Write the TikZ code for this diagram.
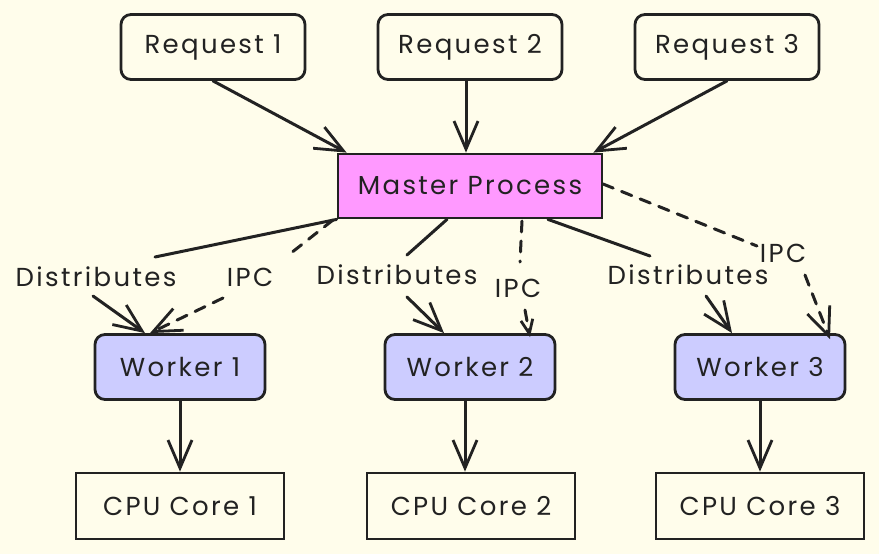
\documentclass[tikz,border=0pt]{standalone}
\usepackage{fontspec}
\setmainfont{Poppins}[LetterSpace=9]
\usetikzlibrary{arrows.meta}
\definecolor{bg}{HTML}{FFFDEB}
\definecolor{ink}{HTML}{222222}
\definecolor{masterfill}{HTML}{FF99FF}
\definecolor{workerfill}{HTML}{CCCCFF}
\begin{document}
\begin{tikzpicture}[x=1pt,y=-1pt,
  font=\fontsize{26}{30}\selectfont,
  box/.style={draw=ink,line width=2.8pt,text=ink,minimum height=65pt,inner sep=0pt},
  reqbox/.style={box,rounded corners=10pt,minimum width=184pt},
  masterbox/.style={box,fill=masterfill,minimum width=264pt,minimum height=64pt},
  workerbox/.style={box,fill=workerfill,rounded corners=10pt,minimum width=170pt},
  cpubox/.style={box,minimum width=208pt,minimum height=66pt},
  lab/.style={inner sep=0pt,text=ink},
  edge/.style={draw=ink,line width=3pt,line cap=round},
  tip/.style={-{Straight Barb[length=28pt,width=24pt,line width=2.8pt]}},
  smalltip/.style={-{Straight Barb[length=14pt,width=12pt,line width=2.8pt]}},
  ipc/.style={edge,dash pattern=on 11pt off 9pt}
]
\fill[bg] (0,0) rectangle (879,554);
\useasboundingbox (0,0) rectangle (879,554);

% boxes
\node[reqbox] (r1) at (213,47) {Request 1};
\node[reqbox] (r2) at (470,47) {Request 2};
\node[reqbox] (r3) at (727,47) {Request 3};
\node[masterbox] (m) at (470,186) {Master Process};
\node[workerbox] (w1) at (180,367) {Worker 1};
\node[workerbox] (w2) at (470,367) {Worker 2};
\node[workerbox] (w3) at (760,367) {Worker 3};
\node[cpubox] (c1) at (180,506) {CPU Core 1};
\node[cpubox] (c2) at (471,506) {CPU Core 2};
\node[cpubox] (c3) at (760,506) {CPU Core 3};

% edge labels
\node[lab] (d1) at (96,277) {Distributes};
\node[lab] (d2) at (397,275) {Distributes};
\node[lab] (d3) at (688,275) {Distributes};
\node[lab] (i1) at (250,277) {IPC};
\node[lab] (i2) at (518,288) {IPC};
\node[lab] (i3) at (783,253) {IPC};

% split points around labels
\coordinate (d1a) at (155,257); \coordinate (d1b) at (93,296);
\coordinate (d2a) at (407,255); \coordinate (d2b) at (407,297);
\coordinate (d3a) at (650,256); \coordinate (d3b) at (706,296);
\coordinate (i1s) at (333,220); \coordinate (i1a) at (286,257); \coordinate (i1b) at (223,298);
\coordinate (i2s) at (522,221); \coordinate (i2a) at (520,262); \coordinate (i2b) at (525,310);
\coordinate (i3s) at (603,184); \coordinate (i3a) at (757,246); \coordinate (i3b) at (805,275);

% requests to master
\draw[edge,tip] (r1.south) -- ([xshift=10pt]m.north west);
\draw[edge,tip] ([xshift=-4pt]r2.south) -- ([xshift=-4pt]m.north);
\draw[edge,tip] (r3.south) -- ([xshift=-10pt]m.north east);

% distributes
\draw[edge] (m.south west) -- (d1a);
\draw[edge,tip] (d1b) -- ([xshift=-35pt]w1.north);
\draw[edge] ([xshift=-23pt]m.south) -- (d2a);
\draw[edge,tip] (d2b) -- ([xshift=-26pt]w2.north);
\draw[edge] ([xshift=78pt]m.south) -- (d3a);
\draw[edge,tip] (d3b) -- ([xshift=-28pt]w3.north);

% IPC
\draw[ipc] (i1s) -- (i1a);
\draw[ipc,tip] (i1b) -- ([xshift=-30pt]w1.north);
\draw[ipc] (i2s) -- (i2a);
\draw[ipc,smalltip] (i2b) -- ([xshift=60pt,yshift=-4pt]w2.north);
\draw[ipc] (i3s) -- (i3a);
\draw[ipc,tip] (i3b) -- ([xshift=70pt,yshift=-6pt]w3.north);

% workers to cores
\draw[edge,tip] (w1.south) -- (c1.north);
\draw[edge,tip] ([xshift=-5pt]w2.south) -- ([xshift=-6pt]c2.north);
\draw[edge,tip] (w3.south) -- (c3.north);
\end{tikzpicture}
\end{document}
